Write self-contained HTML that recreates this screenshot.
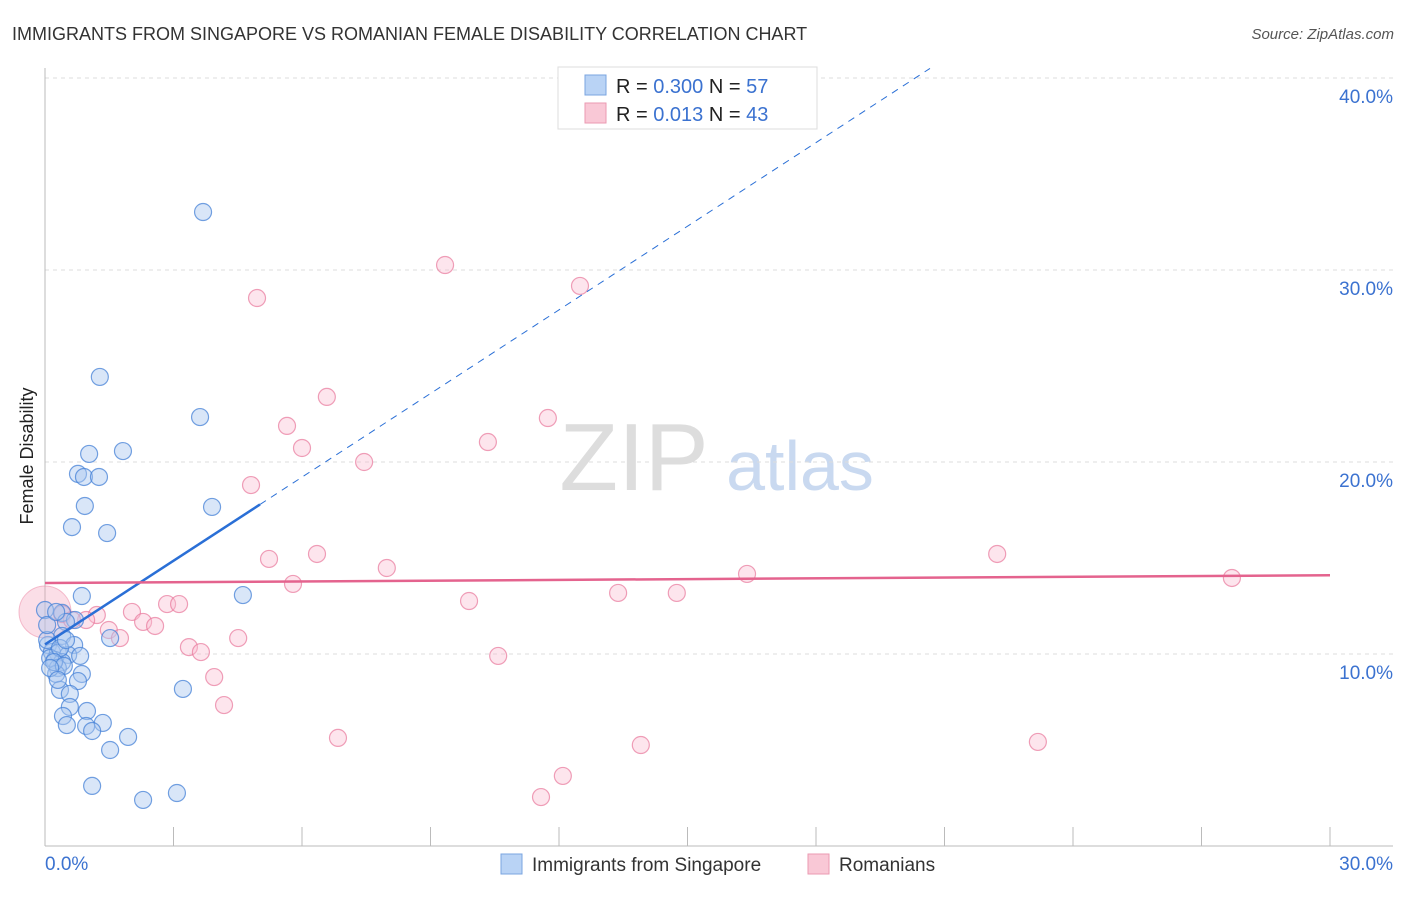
<!DOCTYPE html>
<html><head><meta charset="utf-8"><style>
body{margin:0;background:#fff;font-family:"Liberation Sans",sans-serif;}
svg text{font-family:"Liberation Sans",sans-serif;}
</style></head><body>
<svg id="c" width="1406" height="892" xmlns="http://www.w3.org/2000/svg">
<text x="12" y="40" font-size="18" fill="#333">IMMIGRANTS FROM SINGAPORE VS ROMANIAN FEMALE DISABILITY CORRELATION CHART</text>
<text x="1394" y="39" font-size="15" fill="#555" text-anchor="end" font-style="italic">Source: ZipAtlas.com</text>
<text x="33" y="456" font-size="18" fill="#222" text-anchor="middle" transform="rotate(-90 33 456)">Female Disability</text>
<text x="634" y="490" font-size="96" fill="#ddd" font-family="Liberation Serif" text-anchor="middle">ZIP</text>
<text x="800" y="490" font-size="70" fill="#c9d9f0" text-anchor="middle">atlas</text>
<g id="grid"></g><g id="axes"></g><g id="pts"></g><g id="lines"></g>
<g>
<rect x="558" y="67" width="259" height="62" fill="#fff" stroke="#ddd"/>
<rect x="585" y="75" width="21" height="20" fill="#b9d3f5" stroke="#7aa5e0"/>
<rect x="585" y="103" width="21" height="20" fill="#f9c8d6" stroke="#eb9ab2"/>
<text x="616" y="93" font-size="20" fill="#222">R = <tspan fill="#3b72d0">0.300</tspan>   N = <tspan fill="#3b72d0">57</tspan></text>
<text x="616" y="121" font-size="20" fill="#222">R = <tspan fill="#3b72d0"> 0.013</tspan>   N = <tspan fill="#3b72d0">43</tspan></text>
</g>
<g>
<rect x="501" y="854" width="21" height="20" fill="#b9d3f5" stroke="#7aa5e0"/>
<text x="532" y="871" font-size="19" fill="#333">Immigrants from Singapore</text>
<rect x="808" y="854" width="21" height="20" fill="#f9c8d6" stroke="#eb9ab2"/>
<text x="839" y="871" font-size="19" fill="#333">Romanians</text>
</g>
</svg>
<script>
const xTicks=[0,3,6,9,12,15,18,21,24,27,30];
const yTicks=[10,20,30,40];
const blueX=[3.69,1.28,3.62,1.82,1.03,0.77,0.91,1.26,3.90,0.93,0.63,1.45,0.86,4.62,0.40,0.70,0.49,1.52,0.40,0.68,0.07,0.16,0.30,0.54,0.82,0.23,0.40,0.12,0.30,0.86,0.26,0.77,0.35,0.58,3.22,0.58,0.98,0.42,0.51,1.35,0.96,1.10,1.94,1.52,1.10,2.29,3.08,0.00,0.05,0.35,0.49,0.21,0.44,0.12,0.30,0.05,0.26];
const blueY=[33.02,24.43,22.34,20.57,20.42,19.38,19.22,19.22,17.66,17.71,16.61,16.30,13.02,13.07,12.14,11.77,11.67,10.83,10.94,10.47,10.47,10.10,10.05,9.95,9.90,9.69,9.58,9.79,9.27,8.96,8.96,8.59,8.13,7.92,8.18,7.24,7.03,6.77,6.30,6.41,6.25,5.99,5.68,5.00,3.13,2.40,2.76,12.29,10.73,10.31,10.73,9.58,9.38,9.27,8.65,11.51,12.19];
const pinkX=[9.34,4.95,12.49,6.58,11.74,5.65,10.34,6.00,7.45,4.81,22.23,6.35,5.23,7.98,16.39,27.71,5.79,13.38,14.75,9.90,2.85,3.13,2.03,1.21,0.40,0.96,2.29,2.57,1.49,1.75,4.51,3.36,3.64,10.58,3.95,4.18,6.84,13.91,23.18,12.09,11.58,0.63];
const pinkY=[30.26,28.54,29.17,23.39,22.29,21.88,21.04,20.73,20.00,18.80,15.21,15.21,14.95,14.48,14.17,13.96,13.65,13.18,13.18,12.76,12.60,12.60,12.19,12.03,12.08,11.77,11.67,11.46,11.25,10.83,10.83,10.36,10.10,9.90,8.80,7.34,5.63,5.26,5.42,3.65,2.55,11.77];
const blueFit=[10.5,1.452], pinkFit=[13.7,0.0133];
const X=v=>45+v/30*1285, Y=v=>846-v*19.2;
const NS="http://www.w3.org/2000/svg";
function mk(t,a,p){const e=document.createElementNS(NS,t);for(const k in a)e.setAttribute(k,a[k]);document.getElementById(p).appendChild(e);return e;}
yTicks.forEach(t=>{
 const l=mk('line',{x1:45,x2:1393,y1:Y(t),y2:Y(t),stroke:'#ddd','stroke-dasharray':'4,4'},'grid');
 
 
 const tx=mk('text',{x:1393,y:Y(t)+25,'font-size':19,fill:'#3b72d0','text-anchor':'end'},'grid');
 tx.textContent=t.toFixed(1)+'%';
 
 
});
mk('line',{x1:45,x2:45,y1:68,y2:846,stroke:'#bbb'},'axes');
mk('line',{x1:45,x2:1393,y1:846,y2:846,stroke:'#bbb'},'axes');
xTicks.forEach(t=>{
 const l=mk('line',{x1:X(t),x2:X(t),y1:827,y2:846,stroke:'#bbb'},'axes');
 
 
});
[[0,'start'],[30,'end']].forEach(([t,a])=>{
 const tx=mk('text',{x:t?X(t)+63:X(t),y:870,'font-size':19,fill:'#3b72d0','text-anchor':a},'axes');
 tx.textContent=t.toFixed(1)+'%';
 
 
});
const big=mk('circle',{cx:X(0),cy:Y(12.19),r:26,fill:'rgba(244,160,185,0.35)',stroke:'rgba(235,130,160,0.5)'},'pts');


pinkX.forEach((x,i)=>{
 const c=mk('circle',{cx:X(x),cy:Y(pinkY[i]),r:8.5,fill:'rgba(249,190,210,0.4)',stroke:'rgba(232,120,155,0.7)','stroke-width':1.2},'pts');
 
 
});
blueX.forEach((x,i)=>{
 const c=mk('circle',{cx:X(x),cy:Y(blueY[i]),r:8.5,fill:'rgba(170,200,240,0.45)',stroke:'rgba(70,130,215,0.75)','stroke-width':1.2},'pts');
 
 
});
const bx1=5.02, bx2=(40.5-blueFit[0])/blueFit[1];
const bs=mk('line',{x1:X(0),y1:Y(blueFit[0]),x2:X(bx1),y2:Y(blueFit[0]+blueFit[1]*bx1),stroke:'#2a6fd6','stroke-width':2.5},'lines');


const bd=mk('line',{x1:X(bx1),y1:Y(blueFit[0]+blueFit[1]*bx1),x2:X(bx2),y2:Y(blueFit[0]+blueFit[1]*bx2),stroke:'#2a6fd6','stroke-width':1,'stroke-dasharray':'7,6'},'lines');


const pl=mk('line',{x1:X(0),y1:Y(pinkFit[0]),x2:X(30),y2:Y(pinkFit[0]+pinkFit[1]*30),stroke:'#e4638e','stroke-width':2.5},'lines');


</script>
</body></html>
